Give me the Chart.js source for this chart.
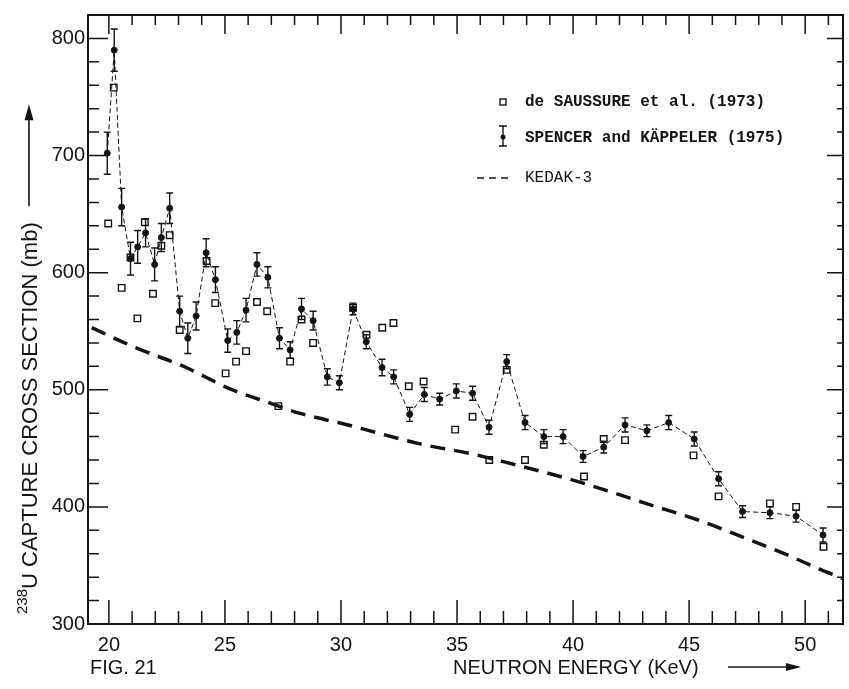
<!DOCTYPE html>
<html>
<head>
<meta charset="utf-8">
<script src="https://cdn.jsdelivr.net/npm/chart.js@4"></script>
<style>
  html, body { margin: 0; padding: 0; background: #fff; }
  canvas { display: block; }
</style>
</head>
<body>
<canvas id="xsChart" width="849" height="689"></canvas>
<script>
// --- data ---
const spencerE = [19.93, 20.23, 20.55, 20.93, 21.24, 21.58, 21.97, 22.26, 22.62, 23.05, 23.40, 23.76, 24.19, 24.59, 25.12, 25.51, 25.91, 26.38, 26.85, 27.35, 27.81, 28.30, 28.80, 29.41, 29.93, 30.52, 31.09, 31.77, 32.27, 32.96, 33.59, 34.25, 34.97, 35.67, 36.38, 37.14, 37.93, 38.74, 39.57, 40.43, 41.32, 42.24, 43.18, 44.12, 45.22, 46.27, 47.30, 48.48, 49.61, 50.77];
const spencerXS = [702, 790, 656, 612, 622, 634, 607, 630, 655, 567, 544, 563, 617, 594, 542, 549, 568, 607, 596, 544, 534, 569, 559, 511, 506, 569, 541, 519, 511, 479, 496, 492, 499, 497, 468, 524, 472, 460, 460, 443, 451, 470, 465, 472, 458, 424, 396, 395, 392, 376];
const spencerErr = [18, 18, 16, 14, 14, 12, 14, 12, 13, 13, 13, 12, 12, 11, 10, 10, 10, 10, 9, 9, 7, 9, 8, 7, 6, 5, 6, 7, 6, 6, 6, 5, 6, 6, 6, 6, 6, 6, 6, 5, 5, 6, 5, 6, 6, 6, 5, 5, 5, 6];

const saussureE = [19.97, 20.21, 20.55, 20.93, 21.23, 21.55, 21.90, 22.26, 22.62, 23.05, 24.21, 24.58, 25.03, 25.48, 25.91, 26.38, 26.82, 27.30, 27.81, 28.30, 28.80, 30.52, 31.10, 31.78, 32.26, 32.92, 33.56, 34.92, 35.67, 36.39, 37.14, 37.93, 38.74, 40.47, 41.32, 42.24, 45.19, 46.27, 48.48, 49.61, 50.79];
const saussureXS = [642, 758, 587, 613, 561, 643, 582, 623, 632, 551, 610, 574, 514, 524, 533, 575, 567, 486, 524, 560, 540, 570, 547, 553, 557, 503, 507, 466, 477, 440, 517, 440, 453, 426, 458, 457, 444, 409, 403, 400, 366];

const kedakE = [19.26, 21.03, 23.33, 25.19, 27.04, 28.20, 30.09, 31.80, 33.35, 35.71, 37.51, 39.79, 41.29, 43.13, 45.36, 47.34, 49.23, 50.60, 51.60];
const kedakXS = [553, 537, 519, 501, 488, 480, 471, 462, 454, 445, 436, 424, 415, 403, 389, 374, 359, 347, 339];

const xTickLabels = [20, 25, 30, 35, 40, 45, 50];
const yTickLabels = [300, 400, 500, 600, 700, 800];

const INK = '#141414';
const SANS = "'Liberation Sans', Arial, sans-serif";
const MONO = "'Liberation Mono', 'Courier New', monospace";

// inward ticks on all four sides + frame
const frameTicks = {
    id: 'frameTicks',
    afterDraw(chart) {
        const { ctx, chartArea: a, scales: { x, y } } = chart;
        ctx.save();
        ctx.strokeStyle = INK;
        ctx.lineWidth = 2;
        ctx.strokeRect(a.left, a.top, a.right - a.left, a.bottom - a.top);
        ctx.lineWidth = 1.5;
        ctx.beginPath();
        for (let v = 20; v <= 51; v++) {
            const px = x.getPixelForValue(v);
            const major = v % 5 === 0;
            ctx.moveTo(px, a.bottom); ctx.lineTo(px, a.bottom - (major ? 24 : 13));
            ctx.moveTo(px, a.top); ctx.lineTo(px, a.top + (major ? 19 : 10));
        }
        for (let v = 320; v <= 800; v += 20) {
            const py = y.getPixelForValue(v);
            const major = v % 100 === 0;
            ctx.moveTo(a.left, py); ctx.lineTo(a.left + (major ? 20 : 11), py);
            ctx.moveTo(a.right, py); ctx.lineTo(a.right - (major ? 16 : 6), py);
        }
        ctx.stroke();
        ctx.restore();
    }
};

// error bars for the Spencer & Käppeler points
const errorBars = {
    id: 'errorBars',
    afterDatasetsDraw(chart) {
        const { ctx, scales: { x, y } } = chart;
        ctx.save();
        ctx.strokeStyle = INK;
        ctx.lineWidth = 1.4;
        ctx.beginPath();
        spencerE.forEach((e, i) => {
            const px = x.getPixelForValue(e);
            const top = y.getPixelForValue(spencerXS[i] + spencerErr[i]);
            const bot = y.getPixelForValue(spencerXS[i] - spencerErr[i]);
            ctx.moveTo(px, top); ctx.lineTo(px, bot);
            ctx.moveTo(px - 3.5, top); ctx.lineTo(px + 3.5, top);
            ctx.moveTo(px - 3.5, bot); ctx.lineTo(px + 3.5, bot);
        });
        ctx.stroke();
        ctx.restore();
    }
};

// axis titles, figure number and the typed legend
const annotations = {
    id: 'annotations',
    afterDraw(chart) {
        const ctx = chart.ctx;
        ctx.save();
        ctx.fillStyle = INK;
        ctx.strokeStyle = INK;

        // y title (rotated) with superscript and arrow
        ctx.save();
        ctx.translate(37, 614);
        ctx.rotate(-Math.PI / 2);
        ctx.textBaseline = 'alphabetic';
        ctx.textAlign = 'left';
        ctx.font = '15px ' + SANS;
        ctx.fillText('238', 0, -10);
        const w1 = ctx.measureText('238').width;
        ctx.font = '22px ' + SANS;
        const main = 'U CAPTURE CROSS SECTION (mb)';
        ctx.fillText(main, w1, 0);
        const end = w1 + ctx.measureText(main).width;
        ctx.lineWidth = 1.6;
        ctx.beginPath();
        ctx.moveTo(end + 16, -8); ctx.lineTo(end + 112, -8);
        ctx.stroke();
        ctx.beginPath();
        ctx.moveTo(end + 118, -8); ctx.lineTo(end + 102, -12.5); ctx.lineTo(end + 102, -3.5); ctx.closePath();
        ctx.fill();
        ctx.restore();

        // x title + arrow
        ctx.font = '20px ' + SANS;
        ctx.textBaseline = 'middle';
        ctx.textAlign = 'left';
        ctx.fillText('FIG. 21', 90, 668);
        ctx.fillText('NEUTRON ENERGY (KeV)', 453, 668);
        ctx.lineWidth = 1.6;
        ctx.beginPath();
        ctx.moveTo(728, 667); ctx.lineTo(788, 667);
        ctx.stroke();
        ctx.beginPath();
        ctx.moveTo(801, 667); ctx.lineTo(786, 663); ctx.lineTo(786, 671); ctx.closePath();
        ctx.fill();

        // legend
        ctx.lineWidth = 1.4;
        ctx.strokeRect(500, 99, 6, 6);
        ctx.beginPath();
        ctx.moveTo(503, 126); ctx.lineTo(503, 146);
        ctx.moveTo(499, 126); ctx.lineTo(507, 126);
        ctx.moveTo(499, 146); ctx.lineTo(507, 146);
        ctx.stroke();
        ctx.beginPath();
        ctx.arc(503, 137, 2.5, 0, Math.PI * 2);
        ctx.fill();
        ctx.lineWidth = 1.5;
        ctx.beginPath();
        [[477, 484], [489, 496], [501, 508]].forEach(([a, b]) => { ctx.moveTo(a, 178); ctx.lineTo(b, 178); });
        ctx.stroke();
        ctx.font = 'bold 16px ' + MONO;
        ctx.fillText('de SAUSSURE et al. (1973)', 525, 102);
        ctx.fillText('SPENCER and KÄPPELER (1975)', 525, 138);
        ctx.font = '16px ' + MONO;
        ctx.fillText('KEDAK-3', 525, 178);
        ctx.restore();
    }
};

new Chart(document.getElementById('xsChart').getContext('2d'), {
    type: 'scatter',
    data: {
        datasets: [
            {
                label: 'de SAUSSURE et al. (1973)',
                data: saussureE.map((e, i) => ({ x: e, y: saussureXS[i] })),
                pointStyle: 'rect', pointRadius: 4.6, borderWidth: 1.4,
                borderColor: INK, backgroundColor: 'rgba(0,0,0,0)', showLine: false
            },
            {
                label: 'SPENCER and KÄPPELER (1975)',
                data: spencerE.map((e, i) => ({ x: e, y: spencerXS[i] })),
                pointStyle: 'circle', pointRadius: 3, borderWidth: 1,
                borderColor: INK, backgroundColor: INK, pointBackgroundColor: INK,
                showLine: true, borderDash: [5, 3], tension: 0
            },
            {
                label: 'KEDAK-3',
                data: kedakE.map((e, i) => ({ x: e, y: kedakXS[i] })),
                pointRadius: 0, borderWidth: 3.5, borderColor: INK,
                showLine: true, borderDash: [15, 9], cubicInterpolationMode: 'monotone'
            }
        ]
    },
    options: {
        responsive: false, animation: false, devicePixelRatio: 1,
        layout: { padding: { top: 12, right: 3, left: 0, bottom: 0 } },
        plugins: { legend: { display: false }, tooltip: { enabled: false } },
        scales: {
            x: {
                type: 'linear', min: 19.1, max: 51.63,
                grid: { display: false, drawTicks: false }, border: { display: false },
                afterBuildTicks: s => { s.ticks = xTickLabels.map(v => ({ value: v })); },
                afterFit: s => { s.height = 65; },
                ticks: { color: INK, font: { family: SANS, size: 20 }, padding: 9, maxRotation: 0 }
            },
            y: {
                type: 'linear', min: 300, max: 820,
                grid: { display: false, drawTicks: false }, border: { display: false },
                afterBuildTicks: s => { s.ticks = yTickLabels.map(v => ({ value: v })); },
                afterFit: s => { s.width = 88; },
                ticks: { color: INK, font: { family: SANS, size: 20 }, padding: 3 }
            }
        }
    },
    plugins: [frameTicks, errorBars, annotations]
});
</script>
</body>
</html>
